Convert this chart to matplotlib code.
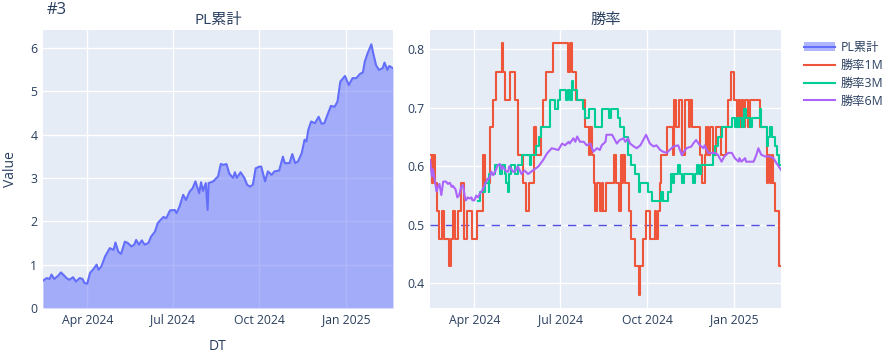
import matplotlib
matplotlib.use("Agg")
import matplotlib.pyplot as plt
import matplotlib.dates as mdates
from matplotlib.lines import Line2D
from matplotlib.patches import Patch
import pandas as pd

plt.rcParams['font.family'] = ['Open Sans', 'Noto Sans CJK JP', 'DejaVu Sans']

# PL累計 (cumulative PL)
pl_dates = [
    "2024-02-14", "2024-02-18", "2024-02-21", "2024-02-23", "2024-02-26", "2024-03-01", "2024-03-04",
    "2024-03-06", "2024-03-10", "2024-03-13", "2024-03-17", "2024-03-20", "2024-03-24", "2024-03-27",
    "2024-03-29", "2024-04-01", "2024-04-04", "2024-04-07", "2024-04-11", "2024-04-13", "2024-04-16",
    "2024-04-20", "2024-04-25", "2024-04-29", "2024-05-01", "2024-05-04", "2024-05-07", "2024-05-11",
    "2024-05-14", "2024-05-18", "2024-05-21", "2024-05-23", "2024-05-26", "2024-05-29", "2024-06-01",
    "2024-06-05", "2024-06-08", "2024-06-12", "2024-06-15", "2024-06-21", "2024-06-24", "2024-06-28",
    "2024-07-03", "2024-07-05", "2024-07-08", "2024-07-12", "2024-07-15", "2024-07-19", "2024-07-22",
    "2024-07-25", "2024-07-29", "2024-07-31", "2024-08-02", "2024-08-05", "2024-08-07", "2024-08-08",
    "2024-08-13", "2024-08-16", "2024-08-18", "2024-08-21", "2024-08-24", "2024-08-27", "2024-08-30",
    "2024-09-03", "2024-09-05", "2024-09-07", "2024-09-11", "2024-09-15", "2024-09-18", "2024-09-21",
    "2024-09-24", "2024-09-27", "2024-10-01", "2024-10-03", "2024-10-07", "2024-10-10", "2024-10-14",
    "2024-10-17", "2024-10-22", "2024-10-26", "2024-10-28", "2024-11-02", "2024-11-05", "2024-11-08",
    "2024-11-11", "2024-11-15", "2024-11-18", "2024-11-20", "2024-11-22", "2024-11-25", "2024-11-29",
    "2024-12-03", "2024-12-06", "2024-12-09", "2024-12-13", "2024-12-16", "2024-12-20", "2024-12-23",
    "2024-12-26", "2024-12-31", "2025-01-04", "2025-01-08", "2025-01-12", "2025-01-16", "2025-01-19",
    "2025-01-21", "2025-01-24", "2025-01-28", "2025-01-30", "2025-02-02", "2025-02-05", "2025-02-09",
    "2025-02-11", "2025-02-14", "2025-02-16", "2025-02-20",
]
pl_values = [
    0.63, 0.69, 0.67, 0.77, 0.67, 0.74, 0.82,
    0.78, 0.69, 0.65, 0.71, 0.61, 0.69, 0.67,
    0.58, 0.56, 0.81, 0.88, 1.00, 0.88, 0.96,
    1.19, 1.38, 1.34, 1.51, 1.30, 1.25, 1.53,
    1.50, 1.42, 1.46, 1.57, 1.46, 1.56, 1.46,
    1.50, 1.65, 1.76, 1.96, 2.10, 2.07, 2.25,
    2.26, 2.19, 2.33, 2.61, 2.49, 2.69, 2.76,
    2.92, 2.65, 2.90, 2.70, 2.88, 2.26, 2.88,
    2.92, 2.99, 3.03, 3.32, 3.30, 3.32, 3.10,
    3.00, 3.13, 3.00, 3.13, 3.00, 2.84, 2.80,
    2.84, 3.22, 3.26, 3.26, 2.92, 3.15, 3.07,
    3.15, 3.17, 3.49, 3.34, 3.34, 3.55, 3.34,
    3.38, 3.57, 3.88, 3.84, 4.11, 4.30, 4.26,
    4.41, 4.25, 4.26, 4.49, 4.66, 4.64, 4.76,
    5.22, 5.35, 5.14, 5.30, 5.30, 5.40, 5.43,
    5.68, 5.87, 6.08, 5.87, 5.60, 5.49, 5.53,
    5.66, 5.49, 5.58, 5.53,
]

# 勝率1M (change points)
wr1m_dates = [
    "2024-02-14", "2024-02-16", "2024-02-17", "2024-02-19", "2024-02-21", "2024-02-24", "2024-02-27",
    "2024-02-29", "2024-03-05", "2024-03-07", "2024-03-09", "2024-03-11", "2024-03-15", "2024-03-18",
    "2024-03-21", "2024-03-24", "2024-03-29", "2024-04-04", "2024-04-10", "2024-04-12", "2024-04-18",
    "2024-04-21", "2024-04-24", "2024-04-30", "2024-05-01", "2024-05-03", "2024-05-09", "2024-05-14",
    "2024-05-17", "2024-05-23", "2024-05-26", "2024-05-29", "2024-06-03", "2024-06-05", "2024-06-11",
    "2024-06-13", "2024-06-16", "2024-06-23", "2024-07-09", "2024-07-11", "2024-07-13", "2024-07-18",
    "2024-07-27", "2024-08-01", "2024-08-02", "2024-08-04", "2024-08-06", "2024-08-07", "2024-08-09",
    "2024-08-12", "2024-08-14", "2024-08-15", "2024-08-18", "2024-08-27", "2024-08-29", "2024-09-01",
    "2024-09-03", "2024-09-05", "2024-09-06", "2024-09-08", "2024-09-12", "2024-09-14", "2024-09-18",
    "2024-09-23", "2024-09-24", "2024-09-27", "2024-09-30", "2024-10-04", "2024-10-09", "2024-10-11",
    "2024-10-13", "2024-10-15", "2024-10-16", "2024-10-22", "2024-10-29", "2024-10-30", "2024-11-01",
    "2024-11-04", "2024-11-07", "2024-11-10", "2024-11-14", "2024-11-16", "2024-11-18", "2024-11-26",
    "2024-11-28", "2024-12-01", "2024-12-03", "2024-12-05", "2024-12-07", "2024-12-10", "2024-12-13",
    "2024-12-18", "2024-12-24", "2024-12-26", "2024-12-29", "2025-01-01", "2025-01-04", "2025-01-06",
    "2025-01-07", "2025-01-09", "2025-01-11", "2025-01-13", "2025-01-16", "2025-01-18", "2025-01-29",
    "2025-02-05", "2025-02-06", "2025-02-08", "2025-02-10", "2025-02-12", "2025-02-14", "2025-02-18",
    "2025-02-20",
]
wr1m_values = [
    0.619, 0.571, 0.619, 0.571, 0.524, 0.476, 0.524,
    0.476, 0.429, 0.476, 0.524, 0.476, 0.524, 0.571,
    0.476, 0.524, 0.476, 0.524, 0.619, 0.571, 0.667,
    0.714, 0.762, 0.810, 0.762, 0.714, 0.762, 0.714,
    0.619, 0.571, 0.524, 0.571, 0.667, 0.619, 0.667,
    0.714, 0.762, 0.810, 0.762, 0.810, 0.762, 0.714,
    0.667, 0.619, 0.667, 0.619, 0.571, 0.524, 0.571,
    0.524, 0.571, 0.524, 0.571, 0.619, 0.571, 0.524,
    0.619, 0.571, 0.619, 0.571, 0.524, 0.476, 0.429,
    0.381, 0.429, 0.476, 0.524, 0.476, 0.524, 0.476,
    0.524, 0.571, 0.619, 0.667, 0.619, 0.714, 0.667,
    0.714, 0.619, 0.714, 0.667, 0.714, 0.667, 0.619,
    0.571, 0.619, 0.667, 0.619, 0.667, 0.619, 0.667,
    0.619, 0.667, 0.714, 0.762, 0.714, 0.667, 0.714,
    0.667, 0.714, 0.667, 0.714, 0.667, 0.714, 0.667,
    0.571, 0.619, 0.571, 0.619, 0.571, 0.524, 0.429,
    0.429,
]

# 勝率3M (change points)
wr3m_dates = [
    "2024-04-05", "2024-04-07", "2024-04-12", "2024-04-16", "2024-04-17", "2024-04-23", "2024-04-28",
    "2024-04-30", "2024-05-03", "2024-05-05", "2024-05-07", "2024-05-08", "2024-05-10", "2024-05-14",
    "2024-05-17", "2024-05-21", "2024-05-30", "2024-05-31", "2024-06-05", "2024-06-08", "2024-06-11",
    "2024-06-20", "2024-06-26", "2024-06-29", "2024-07-01", "2024-07-07", "2024-07-09", "2024-07-11",
    "2024-07-13", "2024-07-15", "2024-07-19", "2024-07-25", "2024-07-27", "2024-08-01", "2024-08-07",
    "2024-08-14", "2024-08-22", "2024-08-24", "2024-08-31", "2024-09-02", "2024-09-07", "2024-09-11",
    "2024-09-14", "2024-09-18", "2024-09-22", "2024-09-24", "2024-10-02", "2024-10-06", "2024-10-16",
    "2024-10-18", "2024-10-23", "2024-10-26", "2024-10-29", "2024-10-30", "2024-11-03", "2024-11-05",
    "2024-11-07", "2024-11-09", "2024-11-19", "2024-11-21", "2024-11-23", "2024-11-25", "2024-11-27",
    "2024-12-10", "2024-12-12", "2024-12-15", "2024-12-19", "2024-12-30", "2025-01-02", "2025-01-04",
    "2025-01-06", "2025-01-07", "2025-01-10", "2025-01-12", "2025-01-14", "2025-01-18", "2025-01-20",
    "2025-01-29", "2025-01-30", "2025-02-05", "2025-02-06", "2025-02-08", "2025-02-10", "2025-02-14",
    "2025-02-16", "2025-02-18", "2025-02-20",
]
wr3m_values = [
    0.540, 0.556, 0.571, 0.556, 0.587, 0.603, 0.587,
    0.603, 0.587, 0.571, 0.556, 0.587, 0.603, 0.587,
    0.603, 0.619, 0.603, 0.619, 0.635, 0.651, 0.667,
    0.714, 0.698, 0.714, 0.730, 0.714, 0.730, 0.714,
    0.746, 0.730, 0.714, 0.698, 0.683, 0.698, 0.667,
    0.698, 0.683, 0.698, 0.683, 0.667, 0.651, 0.619,
    0.603, 0.587, 0.556, 0.571, 0.556, 0.540, 0.556,
    0.540, 0.556, 0.587, 0.571, 0.587, 0.603, 0.587,
    0.571, 0.587, 0.571, 0.587, 0.603, 0.587, 0.603,
    0.619, 0.635, 0.651, 0.667, 0.683, 0.667, 0.683,
    0.667, 0.683, 0.667, 0.698, 0.683, 0.667, 0.683,
    0.698, 0.667, 0.635, 0.651, 0.667, 0.651, 0.635,
    0.619, 0.603, 0.603,
]

# 勝率6M
wr6m_dates = [
    "2024-02-14", "2024-02-16", "2024-02-17", "2024-02-18", "2024-02-21", "2024-02-22", "2024-02-24",
    "2024-02-26", "2024-02-28", "2024-03-02", "2024-03-04", "2024-03-06", "2024-03-08", "2024-03-09",
    "2024-03-12", "2024-03-14", "2024-03-16", "2024-03-18", "2024-03-20", "2024-03-22", "2024-03-23",
    "2024-03-25", "2024-03-27", "2024-03-29", "2024-03-30", "2024-04-01", "2024-04-03", "2024-04-05",
    "2024-04-07", "2024-04-09", "2024-04-12", "2024-04-15", "2024-04-17", "2024-04-19", "2024-04-21",
    "2024-04-23", "2024-04-26", "2024-04-28", "2024-04-30", "2024-05-01", "2024-05-05", "2024-05-07",
    "2024-05-08", "2024-05-12", "2024-05-14", "2024-05-17", "2024-05-21", "2024-05-24", "2024-05-28",
    "2024-06-02", "2024-06-08", "2024-06-13", "2024-06-17", "2024-06-22", "2024-06-29", "2024-07-03",
    "2024-07-06", "2024-07-10", "2024-07-11", "2024-07-15", "2024-07-17", "2024-07-19", "2024-07-22",
    "2024-07-26", "2024-07-29", "2024-08-02", "2024-08-05", "2024-08-09", "2024-08-12", "2024-08-14",
    "2024-08-18", "2024-08-19", "2024-08-25", "2024-08-28", "2024-08-30", "2024-09-02", "2024-09-06",
    "2024-09-08", "2024-09-11", "2024-09-13", "2024-09-17", "2024-09-20", "2024-09-24", "2024-09-27",
    "2024-09-30", "2024-10-04", "2024-10-08", "2024-10-11", "2024-10-15", "2024-10-18", "2024-10-22",
    "2024-10-25", "2024-10-29", "2024-11-03", "2024-11-07", "2024-11-08", "2024-11-12", "2024-11-17",
    "2024-11-19", "2024-11-22", "2024-11-26", "2024-11-30", "2024-12-01", "2024-12-05", "2024-12-12",
    "2024-12-15", "2024-12-19", "2024-12-22", "2024-12-26", "2024-12-30", "2025-01-02", "2025-01-06",
    "2025-01-07", "2025-01-09", "2025-01-13", "2025-01-14", "2025-01-22", "2025-01-25", "2025-01-27",
    "2025-01-30", "2025-02-03", "2025-02-08", "2025-02-12", "2025-02-15", "2025-02-20",
]
wr6m_values = [
    0.611, 0.583, 0.595, 0.586, 0.557, 0.563, 0.570,
    0.551, 0.574, 0.574, 0.570, 0.572, 0.565, 0.567,
    0.561, 0.547, 0.551, 0.565, 0.568, 0.547, 0.542,
    0.547, 0.545, 0.547, 0.542, 0.542, 0.550, 0.547,
    0.554, 0.558, 0.568, 0.579, 0.579, 0.591, 0.585,
    0.591, 0.602, 0.604, 0.595, 0.600, 0.591, 0.591,
    0.600, 0.591, 0.591, 0.600, 0.587, 0.593, 0.587,
    0.593, 0.600, 0.611, 0.622, 0.631, 0.628, 0.639,
    0.636, 0.642, 0.639, 0.648, 0.642, 0.651, 0.642,
    0.642, 0.636, 0.639, 0.625, 0.631, 0.628, 0.636,
    0.642, 0.654, 0.654, 0.645, 0.639, 0.645, 0.648,
    0.642, 0.648, 0.639, 0.634, 0.631, 0.636, 0.645,
    0.654, 0.639, 0.634, 0.636, 0.628, 0.625, 0.623,
    0.628, 0.634, 0.636, 0.619, 0.623, 0.631, 0.634,
    0.639, 0.645, 0.636, 0.631, 0.636, 0.623, 0.623,
    0.620, 0.608, 0.617, 0.623, 0.623, 0.614, 0.608,
    0.614, 0.608, 0.614, 0.608, 0.608, 0.620, 0.631,
    0.620, 0.617, 0.617, 0.614, 0.606, 0.594,
]

ref_line = 0.5
x_start, x_end = "2024-02-14", "2025-02-20"

BG = "#E5ECF6"
FONT_C = "#2a3f5f"
C_PL, C_1M, C_3M, C_6M = "#636efa", "#EF553B", "#00cc96", "#ab63fa"

fig = plt.figure(figsize=(8.94, 3.6), dpi=100)
ax1 = fig.add_axes([43 / 894, 52 / 360, 350 / 894, 278 / 360])
ax2 = fig.add_axes([430 / 894, 52 / 360, 351 / 894, 278 / 360])

pl_x = pd.to_datetime(pl_dates)
ax1.fill_between(pl_x, pl_values, 0, color=C_PL, alpha=0.5, linewidth=0)
ax1.plot(pl_x, pl_values, color=C_PL, lw=1.5)
ax1.set_ylim(0, 6.41)
ax1.set_yticks(range(0, 7))

ax2.axhline(ref_line, color="#2222dd", lw=1, ls=(0, (6, 5)), alpha=0.8, zorder=1)
ax2.step(pd.to_datetime(wr1m_dates), wr1m_values, where="post", color=C_1M, lw=1.5)
ax2.step(pd.to_datetime(wr3m_dates), wr3m_values, where="post", color=C_3M, lw=1.5)
ax2.plot(pd.to_datetime(wr6m_dates), wr6m_values, color=C_6M, lw=1.5)
ax2.set_ylim(0.358, 0.833)
ax2.set_yticks([0.4, 0.5, 0.6, 0.7, 0.8])

for ax in (ax1, ax2):
    ax.set_facecolor(BG)
    ax.set_xlim(pd.Timestamp(x_start), pd.Timestamp(x_end))
    ax.xaxis.set_major_locator(mdates.MonthLocator(bymonth=[1, 4, 7, 10]))
    ax.xaxis.set_major_formatter(mdates.DateFormatter("%b %Y"))
    ax.grid(True, color="white", lw=1)
    ax.set_axisbelow(True)
    for s in ax.spines.values():
        s.set_visible(False)
    ax.tick_params(length=0, labelsize=8.8, colors=FONT_C, pad=4)

ax1.set_title("PL累計", fontsize=11, color=FONT_C, pad=4)
ax2.set_title("勝率", fontsize=11, color=FONT_C, pad=4)
ax1.set_xlabel("DT", fontsize=10, color=FONT_C, labelpad=9)
ax1.set_ylabel("Value", fontsize=10, color=FONT_C, labelpad=9)
fig.text(47 / 894, 1 - 10 / 360, "#3", fontsize=12, color=FONT_C, va="center", ha="left")

handles = [
    (Patch(facecolor=C_PL, alpha=0.5, edgecolor="none"), Line2D([], [], color=C_PL, lw=1.5)),
    Line2D([], [], color=C_1M, lw=1.5),
    Line2D([], [], color=C_3M, lw=1.5),
    Line2D([], [], color=C_6M, lw=1.5),
]
fig.legend(handles, ["PL累計", "勝率1M", "勝率3M", "勝率6M"], loc="upper left",
           bbox_to_anchor=(793 / 894, 1 - 30 / 360), frameon=False, fontsize=8.8,
           labelcolor=FONT_C, handlelength=2.5, handletextpad=0.5, labelspacing=0.4)

fig.savefig("out.png", dpi=100)
